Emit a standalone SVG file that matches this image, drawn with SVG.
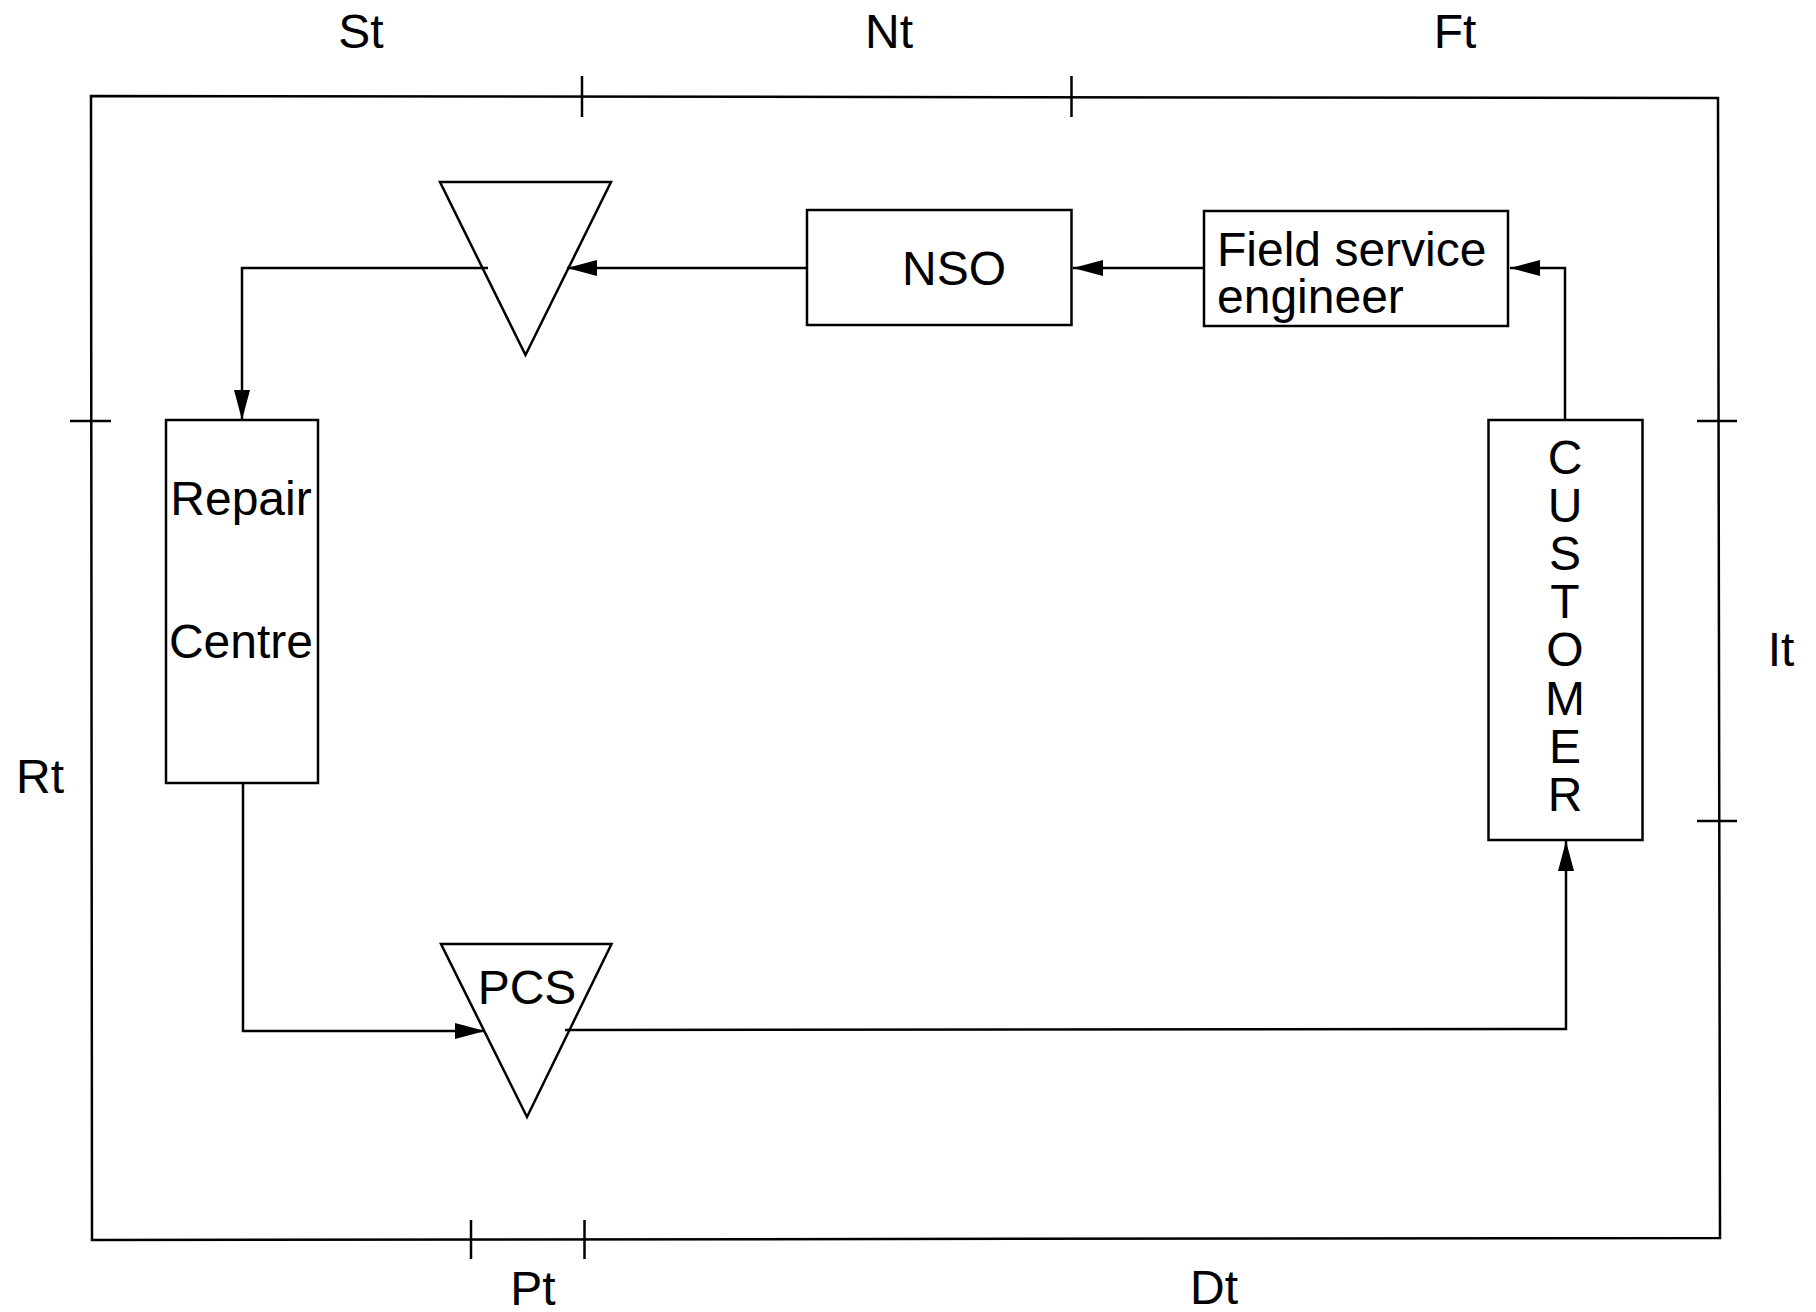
<svg xmlns="http://www.w3.org/2000/svg" width="1816" height="1312" viewBox="0 0 1816 1312">
<style>
.ln{fill:none;stroke:#000;stroke-width:2.5}
.nd{fill:#fff;stroke:#000;stroke-width:2.5}
.t{font-family:"Liberation Sans",Arial,Helvetica,sans-serif;font-size:48px;fill:#000}
.c{text-anchor:middle}
</style>
<defs>
<marker id="ah" viewBox="0 0 30 16" refX="30" refY="8" markerWidth="30" markerHeight="16" markerUnits="userSpaceOnUse" orient="auto">
<path d="M0,0 L30,8 L0,16 Z" fill="#000"/>
</marker>
</defs>
<rect width="1816" height="1312" fill="#fff"/>
<g id="frame">
<path class="ln" d="M91,96 L1718,98 L1720,1238 L92,1240 Z"/>
<line class="ln" x1="582" y1="76" x2="582" y2="117"/>
<line class="ln" x1="1071.5" y1="76" x2="1071.5" y2="117"/>
<line class="ln" x1="70" y1="421" x2="111" y2="421"/>
<line class="ln" x1="1697" y1="421" x2="1737" y2="421"/>
<line class="ln" x1="1697" y1="821" x2="1737" y2="821"/>
<line class="ln" x1="471" y1="1220" x2="471" y2="1259"/>
<line class="ln" x1="584.5" y1="1220" x2="584.5" y2="1259"/>
</g>
<g id="labels">
<text class="t c" x="361" y="48">St</text>
<text class="t c" x="889" y="48">Nt</text>
<text class="t c" x="1455" y="48">Ft</text>
<text class="t c" x="40" y="793">Rt</text>
<text class="t c" x="1781" y="666">It</text>
<text class="t c" x="533" y="1305">Pt</text>
<text class="t c" x="1214" y="1304">Dt</text>
</g>
<g id="connectors">
<path class="ln" d="M1204,268 L1073,268" marker-end="url(#ah)"/>
<path class="ln" d="M1565,420 L1565,268 L1510,268" marker-end="url(#ah)"/>
<path class="ln" d="M807,268 L567,268" marker-end="url(#ah)"/>
<path class="ln" d="M488,268 L242,268 L242,420" marker-end="url(#ah)"/>
<path class="ln" d="M243,783 L243,1031 L485,1031" marker-end="url(#ah)"/>
<path class="ln" d="M565,1030 L1566,1029 L1566,841" marker-end="url(#ah)"/>
</g>
<g id="store-top">
<polygon class="ln" points="440,182 611,182 525.5,355"/>
</g>
<g id="nso">
<rect class="nd" x="807" y="210" width="264.5" height="115"/>
<text class="t c" x="954" y="285">NSO</text>
</g>
<g id="fse">
<rect class="nd" x="1204" y="211" width="304" height="115"/>
<text class="t" x="1217" y="266">Field service</text>
<text class="t" x="1217" y="313">engineer</text>
</g>
<g id="repair">
<rect class="nd" x="166" y="420" width="152" height="363"/>
<text class="t c" x="241" y="515">Repair</text>
<text class="t c" x="241" y="658">Centre</text>
</g>
<g id="pcs">
<polygon class="ln" points="441,944 611.5,944 527,1117"/>
<text class="t c" x="527" y="1004">PCS</text>
</g>
<g id="customer">
<rect class="nd" x="1488.5" y="420" width="154" height="420"/>
<text class="t c" x="1565" y="473.5">C<tspan x="1565" dy="48.2">U</tspan><tspan x="1565" dy="48.2">S</tspan><tspan x="1565" dy="48.2">T</tspan><tspan x="1565" dy="48.2">O</tspan><tspan x="1565" dy="48.2">M</tspan><tspan x="1565" dy="48.2">E</tspan><tspan x="1565" dy="48.2">R</tspan></text>
</g>
</svg>
